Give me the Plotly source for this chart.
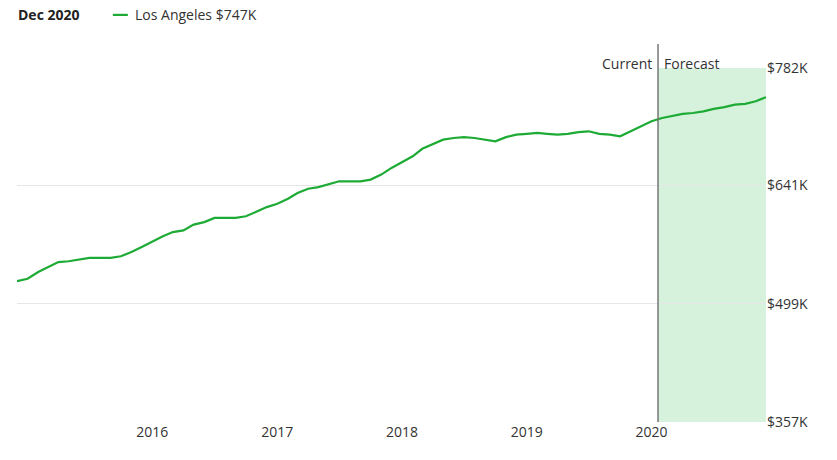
import pandas as pd
import plotly.graph_objects as go

# monthly median home value, Dec 2014 .. Dec 2020 ($K)
START_MONTH = "2014-12-01"
VALUES_K = [
    526, 529, 537, 543, 549, 550, 552, 554, 554, 554, 556, 561,
    567, 574, 580, 585, 587, 594, 597, 602, 602, 602, 604, 610,
    615, 619, 625, 632, 637, 639, 643, 646, 646, 646, 648, 654,
    662, 669, 676, 685, 691, 696, 698, 699, 698, 696, 694, 699,
    702, 703, 704, 703, 702, 703, 705, 706, 703, 702, 700, 706,
    712, 718, 722, 724, 727, 728, 730, 733, 735, 738, 739, 742,
    747,
]
Y_TICKS = [357, 499, 641, 782]
X_TICKS = ["2016-01-01", "2017-01-01", "2018-01-01", "2019-01-01", "2020-01-01"]
X_TICK_LABELS = ["2016", "2017", "2018", "2019", "2020"]
FORECAST_START = "2020-01-20"
TITLE = "Dec 2020"
SERIES_NAME = "Los Angeles $747K"

GREEN = "#1eab35"
dates = pd.date_range(START_MONTH, periods=len(VALUES_K), freq="MS")
x_end = dates[-1]

fig = go.Figure()
fig.add_trace(go.Scatter(x=dates, y=VALUES_K, mode="lines",
                         line=dict(color=GREEN, width=2.2), hoverinfo="skip"))

fig.add_vrect(x0=FORECAST_START, x1=x_end, fillcolor="#d6f2dc", line_width=0, layer="below")
fig.add_shape(type="line", x0=FORECAST_START, x1=FORECAST_START, xref="x",
              yref="paper", y0=0, y1=1.068, line=dict(color="#777", width=1.5))
fig.add_annotation(x=FORECAST_START, xref="x", y=1.045, yref="paper", text="Current",
                   showarrow=False, xanchor="right", xshift=-4, font=dict(size=14, color="#333"))
fig.add_annotation(x=FORECAST_START, xref="x", y=1.045, yref="paper", text="Forecast",
                   showarrow=False, xanchor="left", xshift=4, font=dict(size=14, color="#333"))

fig.add_annotation(x=-0.001, xref="paper", y=1.15, yref="paper", text=f"<b>{TITLE}</b>",
                   showarrow=False, xanchor="left", yanchor="middle", font=dict(size=14, color="#222"))
fig.add_shape(type="line", xref="paper", yref="paper", x0=0.128, x1=0.148, y0=1.15, y1=1.15,
              line=dict(color=GREEN, width=2.2))
fig.add_annotation(x=0.155, xref="paper", y=1.15, yref="paper", text=SERIES_NAME,
                   showarrow=False, xanchor="left", yanchor="middle", font=dict(size=14, color="#333"))

fig.update_xaxes(range=[dates[0], x_end], tickvals=X_TICKS, ticktext=X_TICK_LABELS,
                 showgrid=False, zeroline=False, showline=False, ticks="",
                 tickfont=dict(size=14, color="#333"))
fig.update_yaxes(side="right", range=[357, 782], tickvals=Y_TICKS,
                 ticktext=[f"${v}K" for v in Y_TICKS], showgrid=True, gridcolor="#e6e6e6",
                 zeroline=False, ticks="", tickfont=dict(size=14, color="#333"))
fig.update_layout(width=837, height=460, margin=dict(l=9, r=79, t=60, b=46),
                  plot_bgcolor="white", paper_bgcolor="white", showlegend=False,
                  font=dict(family="Open Sans"))
fig.write_html("out.html")
